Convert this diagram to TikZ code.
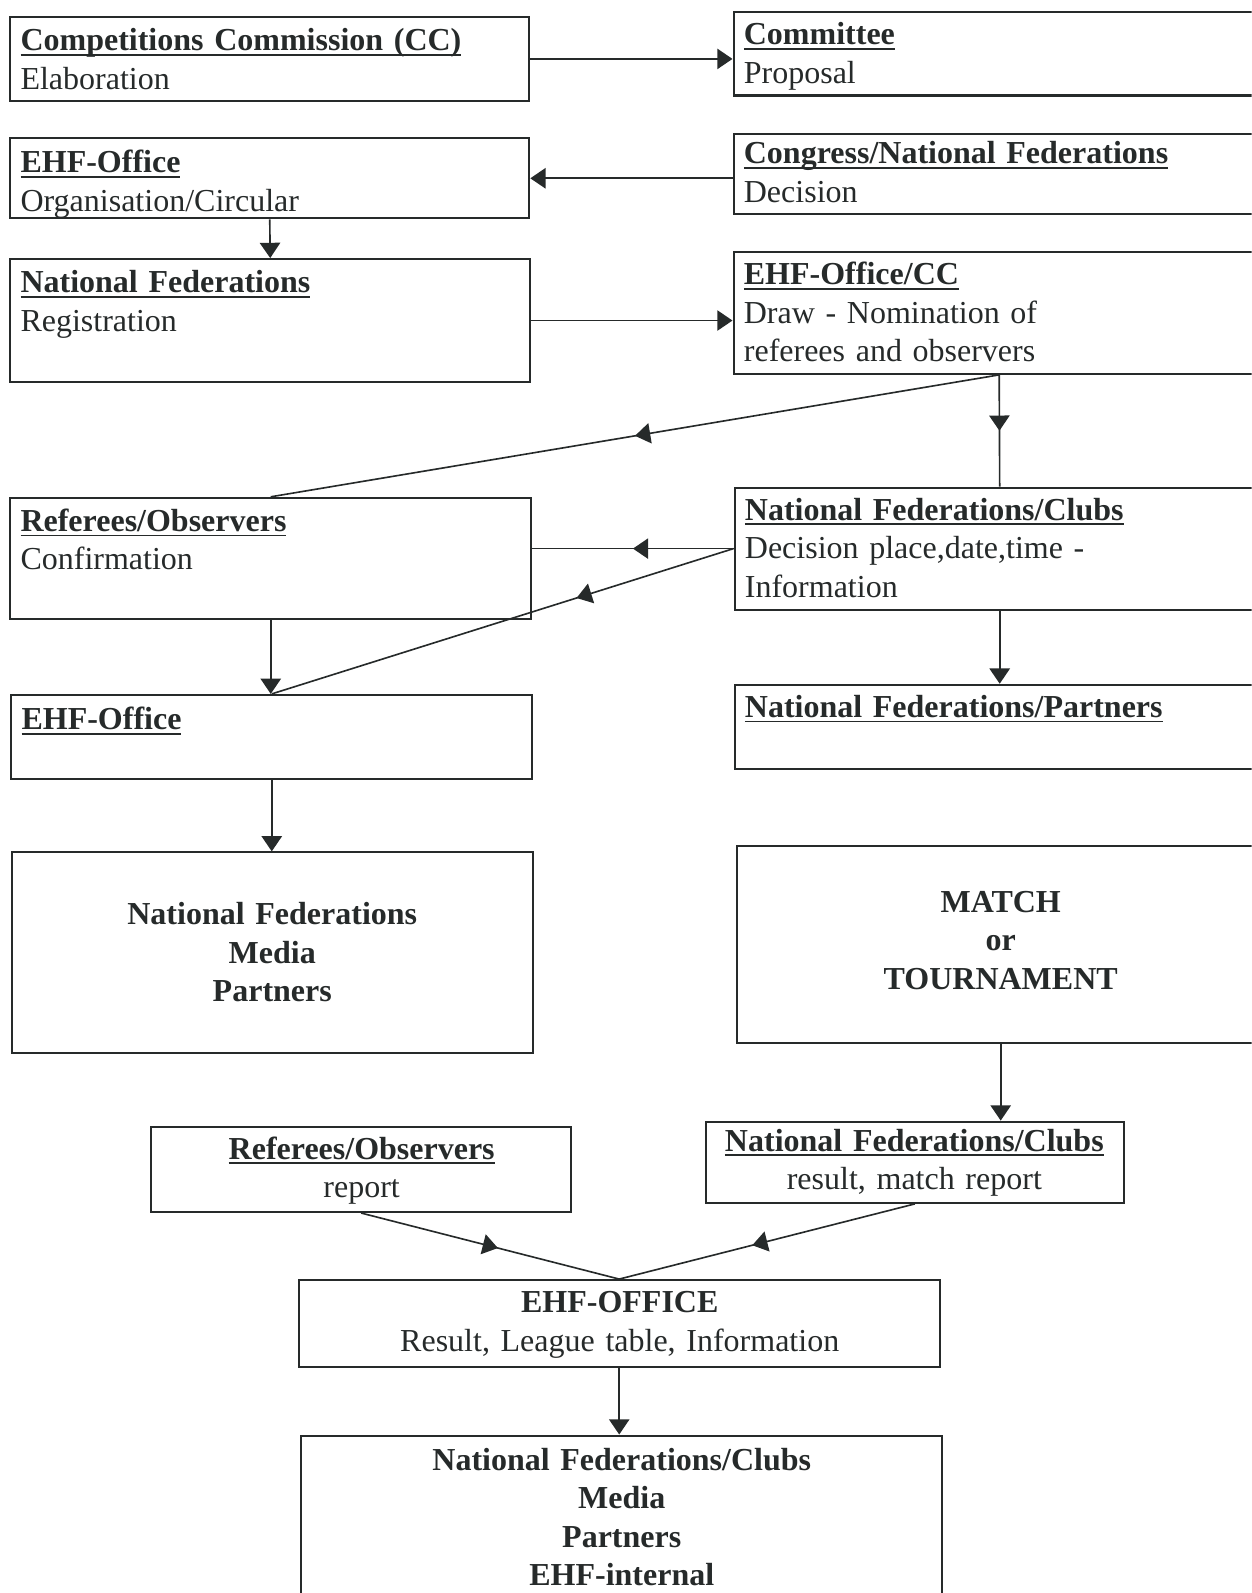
\documentclass[tikz,border=0pt]{standalone}
\usepackage{fontspec}
\setmainfont{Liberation Serif}
\usetikzlibrary{arrows.meta, decorations.markings}
\definecolor{ink}{RGB}{38,42,42}
\newcommand{\ulhd}[1]{\setbox0=\hbox{\textbf{#1}}\rlap{\rule[-5pt]{\wd0}{1.8pt}}\box0}
\tikzset{
  box/.style={draw=ink, line width=2pt, rectangle, inner sep=0pt},
  txt/.style={inner sep=0pt, text=ink, text width=490pt, align=left, anchor=base west},
  ctxt/.style={inner sep=0pt, text=ink, text width=620pt, align=center, anchor=base},
  bctxt/.style={ctxt, font=\fontsize{31.5}{38}\selectfont\bfseries},
  link/.style={draw=ink, line width=1.6pt, -{Triangle[length=15pt, width=20pt]}},
  mid/.style={draw=ink, line width=1.6pt, postaction={decorate},
    decoration={markings, mark=at position #1 with {\arrow{Triangle[length=15pt, width=20pt]}}}}
}
\begin{document}
\begin{tikzpicture}[x=1pt, y=-1pt, font=\fontsize{31.5}{38}\selectfont]
  \useasboundingbox (0,0) rectangle (1232,1568);
  \clip (0,0) rectangle (1232,1568);

  % Boxes
  \node[box, minimum width=511pt, minimum height=82pt] (cc) at (265.5,58) {};
  \node[box, minimum width=523pt, minimum height=82pt] (com) at (983.5,53) {};
  \node[box, minimum width=511pt, minimum height=79pt] (off1) at (265.5,175.5) {};
  \node[box, minimum width=523pt, minimum height=79pt] (cong) at (983.5,171.5) {};
  \node[box, minimum width=512pt, minimum height=121pt] (nf) at (266,315.5) {};
  \node[box, minimum width=523pt, minimum height=120pt] (nom) at (983.5,308) {};
  \node[box, minimum width=513pt, minimum height=119pt] (ref1) at (266.5,549.5) {};
  \node[box, minimum width=522pt, minimum height=120pt] (nfc1) at (984,540) {};
  \node[box, minimum width=513pt, minimum height=83pt] (off2) at (267.5,725.5) {};
  \node[box, minimum width=522pt, minimum height=83pt] (nfp) at (984,715.5) {};
  \node[box, minimum width=513pt, minimum height=197pt] (mp) at (268.5,937.5) {};
  \node[box, minimum width=520pt, minimum height=194pt] (match) at (985,930) {};
  \node[box, minimum width=413pt, minimum height=84pt] (ref2) at (355.5,1151) {};
  \node[box, minimum width=411pt, minimum height=80pt] (nfc2) at (900.5,1144) {};
  \node[box, minimum width=631pt, minimum height=86pt] (office) at (609.5,1303) {};
  \node[box, minimum width=631pt, minimum height=187pt] (final) at (611.5,1506.5) {};

  % Texts
  \node[txt] (cc-t) at (20,50) {\ulhd{Competitions Commission (CC)}\\Elaboration};
  \node[txt] (com-t) at (732,44) {\ulhd{Committee}\\Proposal};
  \node[txt] (off1-t) at (20,170) {\ulhd{EHF-Office}\\Organisation/Circular};
  \node[txt] (cong-t) at (732,161) {\ulhd{Congress/National Federations}\\Decision};
  \node[txt] (nf-t) at (20,288) {\ulhd{National Federations}\\Registration};
  \node[txt] (nom-t) at (732,280) {\ulhd{EHF-Office/CC}\\Draw - Nomination of\\referees and observers};
  \node[txt] (ref1-t) at (20,523) {\ulhd{Referees/Observers}\\Confirmation};
  \node[txt] (nfc1-t) at (733,512) {\ulhd{National Federations/Clubs}\\Decision place,date,time -\\Information};
  \node[txt] (off2-t) at (21,718) {\ulhd{EHF-Office}};
  \node[txt] (nfp-t) at (733,706) {\ulhd{National Federations/Partners}};
  \node[bctxt] (mp-t) at (268,910) {National Federations\\Media\\Partners};
  \node[bctxt] (match-t) at (985,898) {MATCH\\or\\TOURNAMENT};
  \node[ctxt] (ref2-t) at (356,1141) {\ulhd{Referees/Observers}\\report};
  \node[ctxt] (nfc2-t) at (900,1133) {\ulhd{National Federations/Clubs}\\result, match report};
  \node[ctxt] (office-t) at (610,1292) {\textbf{EHF-OFFICE}\\Result, League table, Information};
  \node[bctxt] (final-t) at (612,1447) {National Federations/Clubs\\Media\\Partners\\EHF-internal};

  % Main flow
  \draw[link] (cc.east) -- (cc.east -| com.west);
  \draw[link] (cong.west |- off1.east) -- (off1.east);
  \draw[link] (off1.south) -- (nf.north);
  \draw[link] (nf.east) -- (nf.east -| nom.west);
  \draw[mid=0.5] (nom.south) -- (ref1.north);
  \draw[mid=0.5] (nom.south) -- (nfc1.north);
  \draw[mid=0.5] (nfc1.west) -- (nfc1.west -| ref1.east);
  \draw[mid=0.34] (nfc1.west) -- (off2.north);
  \draw[link] (ref1.south) -- (ref1.south |- off2.north);
  \draw[link] (nfc1.south) -- (nfp.north);
  \draw[link] (off2.south) -- (off2.south |- mp.north);
  \draw[link] (match.south) -- (match.south |- nfc2.north);
  \draw[mid=0.53] (ref2.south) -- (office.north);
  \draw[mid=0.55] (nfc2.south) -- (office.north);
  \draw[link] (office.south) -- (office.south |- final.north);
\end{tikzpicture}
\end{document}
